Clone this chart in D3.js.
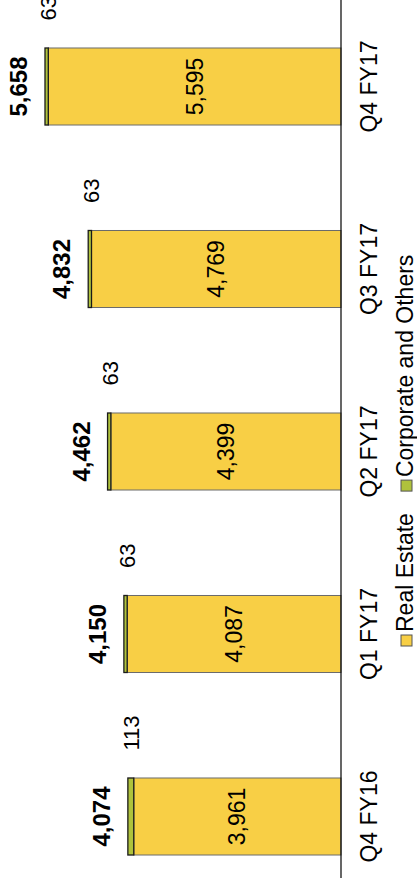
<!DOCTYPE html>
<html><head><meta charset="utf-8">
<script src="https://cdn.jsdelivr.net/npm/d3@7"></script>
<style>body{margin:0;background:#fff}svg{display:block}text{font-family:"Liberation Sans",Arial,sans-serif;fill:#000}</style>
</head><body>
<script>
const categories = ["Q4 FY16","Q1 FY17","Q2 FY17","Q3 FY17","Q4 FY17"];
const realEstate = [3961,4087,4399,4769,5595];
const corporate = [113,63,63,63,63];
const totals = [4074,4150,4462,4832,5658];
const seriesNames = ["Real Estate","Corporate and Others"];
const colors = ["#F8CF45","#AFC23C"];

const W = 417, H = 878;
const svg = d3.select("body").append("svg").attr("width", W).attr("height", H);
// chart drawn in a landscape frame (878 x 417) then rotated -90deg
const g = svg.append("g").attr("transform", `translate(0,${H}) rotate(-90)`);
const L = H;

const x = d3.scaleBand().domain(categories).range([-29.75, 882.75]).paddingInner(0.578).paddingOuter(0.289);
const y = d3.scaleLinear().domain([0, 6518]).range([341, 0]);
const fmt = d3.format(",");

categories.forEach((c, i) => {
  const x0 = x(c), bw = x.bandwidth();
  g.append("rect").attr("x", x0).attr("width", bw)
    .attr("y", y(realEstate[i])).attr("height", y(0) - y(realEstate[i]))
    .attr("fill", colors[0]).attr("stroke", "#6b6b6b").attr("stroke-width", 1);
  g.append("rect").attr("x", x0).attr("width", bw)
    .attr("y", y(totals[i])).attr("height", y(realEstate[i]) - y(totals[i]))
    .attr("fill", colors[1]).attr("stroke", "#1a1a1a").attr("stroke-width", 1.3);
  const cx = x0 + bw / 2;
  g.append("text").attr("x", cx).attr("y", (y(0) + y(realEstate[i])) / 2).attr("dy", "0.35em")
    .attr("text-anchor", "middle").attr("font-size", 23).text(fmt(realEstate[i]));
  g.append("text").attr("x", cx).attr("y", y(totals[i]) - 18)
    .attr("text-anchor", "middle").attr("font-size", 24).attr("font-weight", "bold").text(fmt(totals[i]));
  g.append("text").attr("x", cx + 66).attr("y", y(totals[i]) + 3).attr("dy", "0.35em")
    .attr("text-anchor", "start").attr("font-size", 22).text(fmt(corporate[i]));
});

const axis = g.append("g").attr("transform", `translate(0,${y(0)})`)
  .call(d3.axisBottom(x).tickSize(0).tickPadding(0));
axis.select(".domain").attr("d", `M0,0H${L}`).attr("stroke", "#000").attr("stroke-width", 1.2);
axis.selectAll("text").attr("font-size", 23).attr("dy", null).attr("y", 36)
  .style("font-family", '"Liberation Sans",Arial,sans-serif').attr("fill", "#000");

const leg = g.append("g");
let lx = 232;
seriesNames.forEach((n, i) => {
  leg.append("rect").attr("x", lx).attr("y", 401).attr("width", 11).attr("height", 11)
    .attr("fill", colors[i]).attr("stroke", "#555").attr("stroke-width", 1);
  const t = leg.append("text").attr("x", lx + 14).attr("y", 413).attr("font-size", 23).text(n);
  lx += 14 + t.node().getComputedTextLength() + 22;
});
</script>
</body></html>
